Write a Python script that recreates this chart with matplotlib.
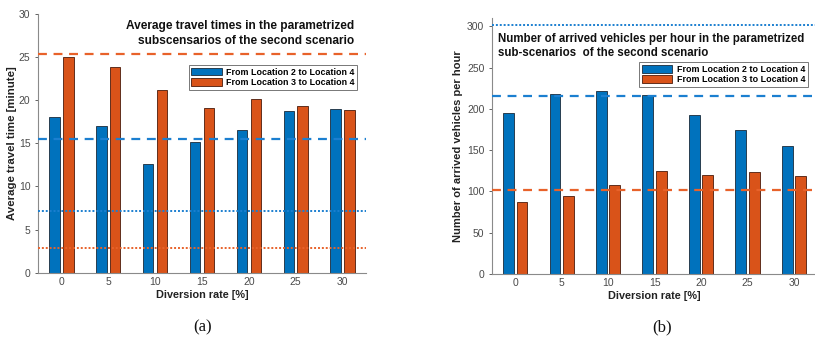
import matplotlib
matplotlib.use("Agg")
import matplotlib.pyplot as plt
import numpy as np

plt.rcParams['font.family'] = ['Liberation Sans', 'DejaVu Sans']

categories = ["0", "5", "10", "15", "20", "25", "30"]

# (a) Average travel time [minute]
travel_2to4 = [18.0, 17.0, 12.6, 15.1, 16.5, 18.7, 19.0]
travel_3to4 = [25.0, 23.8, 21.2, 19.05, 20.1, 19.3, 18.9]
travel_ref_dashed_2to4 = 15.55
travel_ref_dashed_3to4 = 25.35
travel_ref_dotted_2to4 = 7.15
travel_ref_dotted_3to4 = 2.85

# (b) Number of arrived vehicles per hour
arrived_2to4 = [195, 218, 221.5, 217, 192, 174.5, 154.5]
arrived_3to4 = [87, 95, 108, 125, 120, 123, 118.5]
arrived_ref_dashed_2to4 = 215
arrived_ref_dashed_3to4 = 102
arrived_ref_dotted_2to4 = 301.5

series_labels = ["From Location 2 to Location 4", "From Location 3 to Location 4"]

BLUE = "#0072BD"
ORANGE = "#D95319"
BLUE_LINE = "#1B7FD0"
ORANGE_LINE = "#E8622A"
GREY = "#4a4a4a"

fig = plt.figure(figsize=(8.15, 3.38), dpi=100)

def style_axes(ax, ylim, yticks):
    x = np.arange(len(categories))
    ax.set_xlim(-0.5, len(categories) - 0.5)
    ax.set_ylim(*ylim)
    ax.set_xticks(x)
    ax.set_xticklabels(categories)
    ax.set_yticks(yticks)
    for s in ["top", "right"]:
        ax.spines[s].set_visible(False)
    for s in ["left", "bottom"]:
        ax.spines[s].set_color("#8a8a8a")
        ax.spines[s].set_linewidth(0.8)
    ax.tick_params(axis="both", labelsize=7.5, colors=GREY, length=2.5, width=0.6, pad=3)
    ax.tick_params(axis="x", length=0)

def draw_bars(ax, a, b, off, w):
    x = np.arange(len(categories))
    ax.bar(x - off, a, w, color=BLUE, edgecolor="#1a2a3a", linewidth=0.6, label=series_labels[0], zorder=2)
    ax.bar(x + off, b, w, color=ORANGE, edgecolor="#4a1a0a", linewidth=0.6, label=series_labels[1], zorder=2)

def make_legend(ax, anchor):
    leg = ax.legend(loc="upper right", bbox_to_anchor=anchor, prop={"weight": "bold", "size": 6.4},
                    frameon=True, fancybox=False, edgecolor="#555555", handlelength=3.4, handleheight=1.0,
                    borderpad=0.3, labelspacing=0.2, handletextpad=0.5, borderaxespad=0)
    leg.get_frame().set_linewidth(0.7)
    return leg

# ---- (a)
ax1 = fig.add_axes([0.0466, 0.193, 0.4025, 0.766])
style_axes(ax1, (0, 30), [0, 5, 10, 15, 20, 25, 30])
draw_bars(ax1, travel_2to4, travel_3to4, 0.148, 0.225)
ax1.axhline(travel_ref_dashed_3to4, color=ORANGE_LINE, ls=(0, (4, 3)), lw=1.6, zorder=3)
ax1.axhline(travel_ref_dashed_2to4, color=BLUE_LINE, ls=(0, (4, 3)), lw=1.6, zorder=3)
ax1.axhline(travel_ref_dotted_2to4, color=BLUE_LINE, ls=(0, (1, 1)), lw=1.4, zorder=3)
ax1.axhline(travel_ref_dotted_3to4, color=ORANGE_LINE, ls=(0, (1, 1)), lw=1.4, zorder=3)
ax1.text(0.964, 0.975, "Average travel times in the parametrized\nsubscensarios of the second scenario",
         transform=ax1.transAxes, ha="right", va="top", fontsize=8.6, fontweight="bold",
         color="#111111", linespacing=1.3)
make_legend(ax1, (0.973, 0.803))
ax1.set_xlabel("Diversion rate [%]", fontsize=7.8, fontweight="bold", color="#222222", labelpad=2)
ax1.set_ylabel("Average travel time [minute]", fontsize=8.2, fontweight="bold", color="#222222", labelpad=1)

# ---- (b)
ax2 = fig.add_axes([0.6037, 0.189, 0.399, 0.758])
style_axes(ax2, (0, 310), [0, 50, 100, 150, 200, 250, 300])
draw_bars(ax2, arrived_2to4, arrived_3to4, 0.145, 0.235)
ax2.axhline(arrived_ref_dotted_2to4, color=BLUE_LINE, ls=(0, (1, 1)), lw=1.4, zorder=3, clip_on=False)
ax2.axhline(arrived_ref_dashed_2to4, color=BLUE_LINE, ls=(0, (4, 3)), lw=1.6, zorder=3)
ax2.axhline(arrived_ref_dashed_3to4, color=ORANGE_LINE, ls=(0, (4, 3)), lw=1.6, zorder=3)
ax2.text(0.017, 0.942, "Number of arrived vehicles per hour in the parametrized\nsub-scenarios  of the second scenario",
         transform=ax2.transAxes, ha="left", va="top", fontsize=8.3, fontweight="bold",
         color="#111111", linespacing=1.3)
make_legend(ax2, (0.9715, 0.828))
ax2.set_xlabel("Diversion rate [%]", fontsize=7.8, fontweight="bold", color="#222222", labelpad=2)
ax2.set_ylabel("Number of arrived vehicles per hour", fontsize=8.0, fontweight="bold", color="#222222", labelpad=3)

fig.text(203 / 815, 1 - 327 / 338, "(a)", ha="center", va="center", fontsize=12,
         family=["Liberation Serif", "DejaVu Serif"], color="#111111")
fig.text(662 / 815, 1 - 327 / 338, "(b)", ha="center", va="center", fontsize=12,
         family=["Liberation Serif", "DejaVu Serif"], color="#111111")

fig.savefig("out.png", dpi=100)
